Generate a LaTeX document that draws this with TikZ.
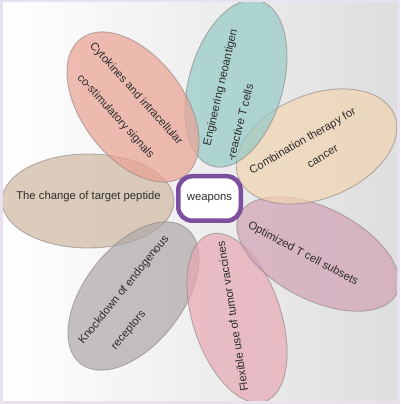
\documentclass[tikz,border=0pt]{standalone}
\usepackage{fontspec}
\setmainfont{Liberation Sans}
\usetikzlibrary{shapes.geometric}
\definecolor{frame}{RGB}{232,226,240}
\definecolor{bgR}{RGB}{222,222,222}
\definecolor{cSal}{RGB}{234,161,146}
\definecolor{cTeal}{RGB}{148,202,198}
\definecolor{cOra}{RGB}{241,212,177}
\definecolor{cMau}{RGB}{209,161,181}
\definecolor{cPink}{RGB}{231,168,179}
\definecolor{cGray}{RGB}{174,168,167}
\definecolor{cTan}{RGB}{207,184,161}
\definecolor{edge}{RGB}{140,130,130}
\definecolor{boxc}{RGB}{123,79,157}
\definecolor{txt}{RGB}{45,45,45}
\tikzset{
  petal/.style={draw=edge, draw opacity=0.6, line width=0.9pt, fill opacity=0.7},
  lab/.style={inner sep=0pt, text=txt, font=\fontsize{11.3}{13}\selectfont},
}
\begin{document}
\begin{tikzpicture}[x=1pt,y=1pt]
\useasboundingbox (0,0) rectangle (400,404);
\fill[frame] (0,0) rectangle (400,404);
\shade[left color=white, right color=bgR] (3,3) rectangle (397,401);
\begin{scope}
\clip (3,3) rectangle (397,401);
\draw[petal, fill=cTan] (88,203) ellipse [x radius=86, y radius=47, rotate=0];
\draw[petal, fill=cGray] (133.5,108) ellipse [x radius=86, y radius=49, rotate=52];
\draw[petal, fill=cPink] (237,86) ellipse [x radius=88, y radius=44, rotate=-71.7];
\draw[petal, fill=cMau] (318,150) ellipse [x radius=88, y radius=46, rotate=-27];
\draw[petal, fill=cOra] (316.5,257.5) ellipse [x radius=84, y radius=52, rotate=22];
\draw[petal, fill=cTeal] (236,320.5) ellipse [x radius=86, y radius=47, rotate=74];
\draw[petal, fill=cSal] (133,297) ellipse [x radius=86, y radius=51, rotate=-52.7];
\end{scope}
\node[lab, rotate=-48] (cyt1) at (136,310) {Cytokines and intracellular};
\node[lab, rotate=-48] (cyt2) at (115.5,287.5) {co-stimulatory signals};
\node[lab, rotate=77] (eng1) at (221,316.5) {Engineering neoantigen};
\node[lab, rotate=76] (eng2) at (240,281.5) {-reactive T cells};
\node[lab, rotate=30] (com1) at (303,262.5) {Combination therapy for};
\node[lab, rotate=32] (com2) at (323,247) {cancer};
\node[lab, rotate=-28] (opt) at (303,150) {Optimized T cell subsets};
\node[lab, rotate=99] (flex) at (232.5,87.5) {Flexible use of tumor vaccines};
\node[lab, rotate=51] (kno1) at (124,114) {Knockdown of endogenous};
\node[lab, rotate=50] (kno2) at (129,73) {receptors};
\node[lab] (tcp) at (88.5,207) {The change of target peptide};
\node[draw=boxc, line width=4.5pt, rounded corners=14pt, fill=white,
      minimum width=62.5pt, minimum height=44.5pt, inner sep=0pt,
      text=txt, font=\fontsize{11.3}{13}\selectfont] (core) at (209.5,205.5) {weapons};
\end{tikzpicture}
\end{document}
